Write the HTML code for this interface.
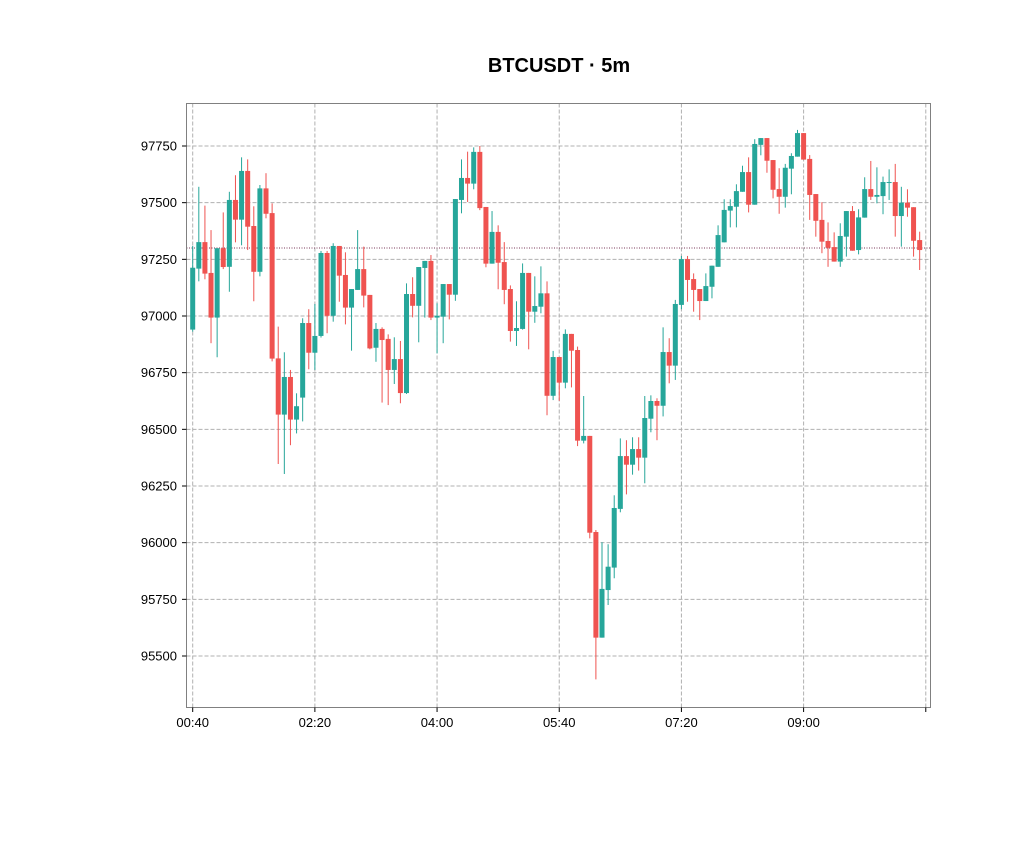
<!DOCTYPE html>
<html><head><meta charset="utf-8"><style>
body{margin:0;background:#fff;font-family:"Liberation Sans",sans-serif}
svg text{font-family:"Liberation Sans",sans-serif}
</style></head><body>
<svg id="chart" width="1035" height="862" viewBox="0 0 1035 862" xmlns="http://www.w3.org/2000/svg">
<rect width="1035" height="862" fill="#fff"/>
<text x="559" y="72" text-anchor="middle" font-size="20" font-weight="bold" fill="#000">BTCUSDT · 5m</text>
<g id="grid"></g>
<g id="candles"></g>
<rect x="186.5" y="103.5" width="744" height="604" fill="none" stroke="#808080" stroke-width="1"/>
<g id="axes"></g>
</svg>
<script>
const opens=[96940,97209,97326,97190,96993,97299,97217,97512,97425,97640,97397,97195,97563,97454,96813,96565,96731,96543,96640,96969,96838,96912,97278,97001,97309,97181,97037,97115,97207,97093,96860,96943,96899,96762,96810,96660,97097,97045,97212,97243,96993,96997,97141,97094,97512,97609,97584,97724,97481,97231,97371,97238,97119,96934,96943,97190,97019,97041,97100,96648,96819,96706,96921,96850,96450,96471,96047,95581,95791,95890,96149,96382,96344,96413,96375,96547,96625,96604,96841,96781,97049,97251,97163,97119,97066,97129,97217,97325,97465,97482,97548,97635,97491,97755,97785,97688,97560,97526,97650,97703,97807,97693,97538,97424,97331,97304,97240,97350,97463,97291,97434,97560,97526,97529,97588,97591,97441,97500,97480,97335];
const highs=[97309,97570,97487,97379,97299,97457,97548,97621,97700,97691,97484,97578,97630,97497,96953,96840,96762,96659,96990,97030,97053,97287,97287,97321,97309,97281,97119,97379,97306,97093,96969,96950,96919,96906,96890,97144,97171,97216,97243,97269,97056,97141,97141,97516,97691,97725,97744,97750,97481,97463,97400,97326,97135,97065,97232,97190,97175,97219,97153,96846,96819,96941,96921,96865,96647,96471,96056,96002,95993,96209,96460,96452,96465,96465,96647,96650,96637,96950,96902,97071,97265,97265,97188,97119,97188,97222,97400,97515,97515,97581,97663,97700,97780,97785,97785,97688,97652,97671,97718,97821,97807,97710,97538,97502,97413,97369,97409,97463,97485,97471,97612,97684,97656,97615,97647,97671,97570,97559,97480,97372];
const lows=[96931,97153,97162,96880,96818,97207,97107,97325,97312,97291,97065,97175,97431,96800,96347,96303,96430,96482,96535,96765,96762,96905,96924,96975,97063,96963,96847,97115,97038,96853,96798,96618,96607,96700,96615,96656,96994,96884,96993,96982,96835,96880,96985,97067,97453,97503,97559,97467,97215,97231,97118,97052,96887,96868,96940,96853,96970,97012,96562,96629,96626,96681,96685,96426,96438,96019,95397,95581,95725,95843,96134,96213,96300,96318,96262,96487,96452,96557,96703,96718,97030,97063,97019,96982,97066,97078,97217,97325,97391,97391,97548,97457,97491,97709,97632,97519,97451,97478,97537,97703,97690,97424,97350,97277,97217,97240,97217,97262,97288,97272,97434,97512,97497,97449,97512,97350,97306,97438,97262,97203];
const closes=[97213,97326,97187,96993,97299,97216,97512,97425,97640,97394,97195,97563,97451,96812,96565,96731,96543,96602,96969,96838,96912,97278,97001,97309,97178,97037,97119,97207,97090,96857,96943,96894,96762,96810,96660,97097,97045,97216,97243,96993,97001,97141,97094,97516,97609,97584,97724,97476,97231,97371,97235,97115,96934,96947,97190,97019,97044,97100,96648,96819,96706,96921,96847,96450,96471,96044,95581,95796,95894,96153,96382,96344,96413,96375,96550,96625,96604,96841,96781,97053,97251,97159,97115,97066,97132,97222,97357,97468,97485,97551,97635,97491,97759,97785,97685,97557,97526,97654,97706,97807,97690,97534,97420,97328,97301,97240,97353,97463,97288,97435,97560,97526,97534,97591,97591,97441,97500,97478,97332,97291];
const yTicks=[95500,95750,96000,96250,96500,96750,97000,97250,97500,97750];
const xTickIdx=[0,20,40,60,80,100,120];
const xTickLabels=["00:40","02:20","04:00","05:40","07:20","09:00",""];
const refPrice=97300;

const NS="http://www.w3.org/2000/svg";
function x(i){return 192.7+i*6.109;}
function y(p){return 316-(p-97000)*0.22667;}
function mk(tag,attrs,parent){const e=document.createElementNS(NS,tag);for(const k in attrs)e.setAttribute(k,attrs[k]);parent.appendChild(e);return e;}
const grid=document.getElementById('grid'),cg=document.getElementById('candles'),ax=document.getElementById('axes');
yTicks.forEach(v=>{
  const l=mk('line',{x1:186.5,x2:930.5,y1:y(v),y2:y(v),stroke:'#b0b0b0','stroke-dasharray':'4,2','stroke-width':1},grid);
  
  
  const t=mk('line',{x1:182,x2:186.5,y1:y(v),y2:y(v),stroke:'#000'},ax);
  
  
  const tx=mk('text',{x:177,y:y(v)+4.5,'text-anchor':'end','font-size':13,fill:'#000'},ax);
  tx.textContent=v;
  
  
});
xTickIdx.forEach((idx,k)=>{
  const l=mk('line',{x1:x(idx),x2:x(idx),y1:103.5,y2:707.5,stroke:'#b0b0b0','stroke-dasharray':'4,2','stroke-width':1},grid);
  
  
  const t=mk('line',{x1:x(idx),x2:x(idx),y1:707.5,y2:712,stroke:'#000'},ax);
  
  
  const tx=mk('text',{x:x(idx),y:727,'text-anchor':'middle','font-size':13,fill:'#000'},ax);
  tx.textContent=xTickLabels[k];
  
  
});
const rl=mk('line',{x1:186.5,x2:930.5,y1:y(refPrice),y2:y(refPrice),stroke:'#7a3a5a','stroke-dasharray':'1,1.5','stroke-width':1},grid);


opens.forEach((o,i)=>{
  const c=closes[i],up=c>=o,col=up?'#26a69a':'#ef5350';
  const g=mk('g',{},cg);
  
  
  const cx=x(i);
  mk('line',{x1:cx,x2:cx,y1:y(highs[i]),y2:y(lows[i]),stroke:col,'stroke-width':1},g);
  const top=y(Math.max(o,c)),bot=y(Math.min(o,c));
  mk('rect',{x:cx-2.5,y:top,width:5,height:Math.max(bot-top,1),fill:col},g);
});
</script>
</body></html>
